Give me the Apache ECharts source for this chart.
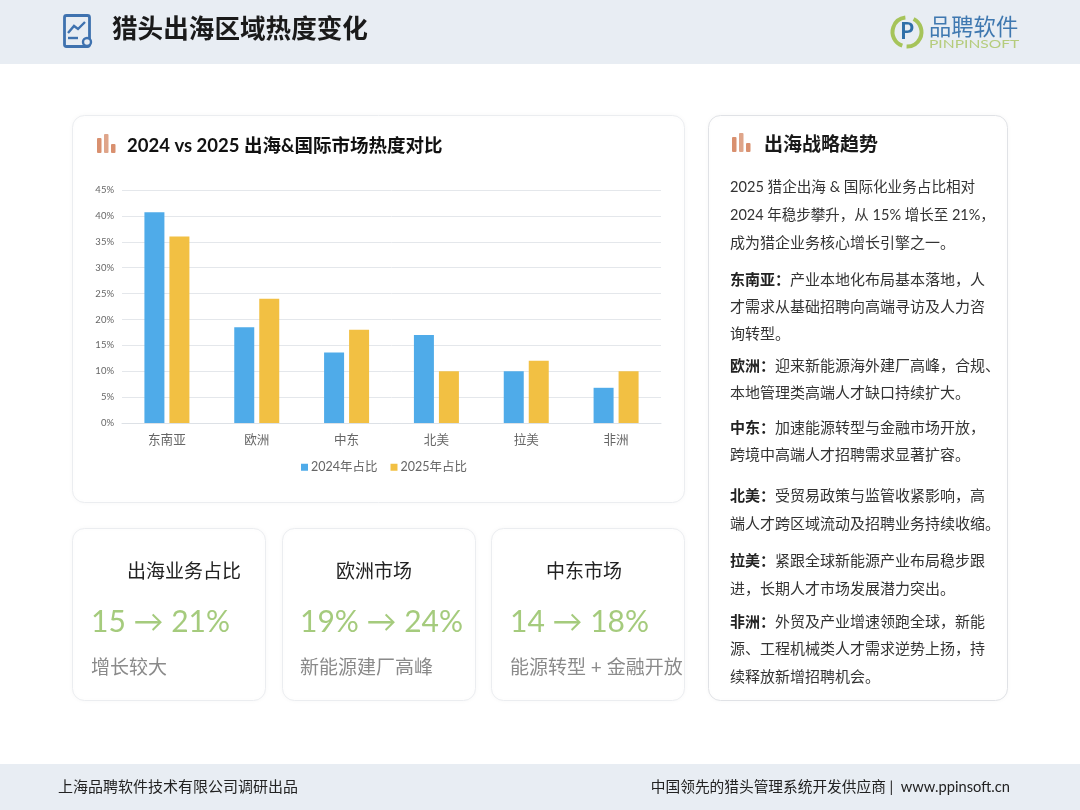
<!DOCTYPE html>
<html><head><meta charset="utf-8">
<style>html,body{margin:0;padding:0;background:#fff}#c{width:1080px;height:810px}</style>
<script src="https://cdn.jsdelivr.net/npm/echarts@6/dist/echarts.min.js"></script>
</head><body><div id="c"></div>
<script>
const categories = ['东南亚','欧洲','中东','北美','拉美','非洲'];
const values2024 = [40.7,18.5,13.6,17,10,6.8];
const values2025 = [36,24,18,10,12,10];
const seriesNames = ['2024年占比','2025年占比'];
const pageTitle = '猎头出海区域热度变化';
const chartTitle = '2024 vs 2025 出海&国际市场热度对比';
const sideTitle = '出海战略趋势';
const cardTitles = ['出海业务占比','欧洲市场','中东市场'];
const cardValues = ['15 → 21%','19% → 24%','14 → 18%'];
const cardNotes = ['增长较大','新能源建厂高峰','能源转型 + 金融开放'];
const sideLines = [
 ['','2025 猎企出海 & 国际化业务占比相对',187.5,14.6],
 ['','2024 年稳步攀升，从 15% 增长至 21%，',215.5,14.5],
 ['','成为猎企业务核心增长引擎之一。',243,15],
 ['东南亚：','产业本地化布局基本落地，人',280,15],
 ['','才需求从基础招聘向高端寻访及人力咨',307,15],
 ['','询转型。',334,15],
 ['欧洲：','迎来新能源海外建厂高峰，合规、',366,15],
 ['','本地管理类高端人才缺口持续扩大。',393,15],
 ['中东：','加速能源转型与金融市场开放，',428,15],
 ['','跨境中高端人才招聘需求显著扩容。',455,15],
 ['北美：','受贸易政策与监管收紧影响，高',496,15],
 ['','端人才跨区域流动及招聘业务持续收缩。',524,15],
 ['拉美：','紧跟全球新能源产业布局稳步跟',561,15],
 ['','进，长期人才市场发展潜力突出。',589,15],
 ['非洲：','外贸及产业增速领跑全球，新能',622,15],
 ['','源、工程机械类人才需求逆势上扬，持',649,15],
 ['','续释放新增招聘机会。',677,15]
];
const footerLeft = '上海品聘软件技术有限公司调研出品';
const footerRight = '中国领先的猎头管理系统开发供应商 |  www.ppinsoft.cn';

const FF = 'Lato, "Noto Sans CJK SC", sans-serif';
const g = [];
const rect = (x,y,w,h,fill,r,stroke,z) => g.push({type:'rect',silent:true,z:z||0,shape:{x,y,width:w,height:h,r:r||0},
  style:{fill,stroke:stroke||null,lineWidth:stroke?1:0}});
const card = (x,y,w,h,border) => g.push({type:'rect',silent:true,z:0,shape:{x,y,width:w,height:h,r:12},
  style:{fill:'#fff',stroke:border||'#EBEDF0',lineWidth:1,shadowColor:'rgba(0,0,0,0.04)',shadowBlur:5}});
const text = (x,y,t,size,color,weight,align,sx) => g.push({type:'text',silent:true,z:5,x,y,scaleX:sx||1,
  style:{text:t,font:(weight||'normal')+' '+size+'px '+FF,fill:color,textAlign:align||'left',textVerticalAlign:'middle'}});
const bars = (x,y) => {
  rect(x,y-9,4.5,15,'#D9906F',1,null,5); rect(x+7,y-13,4.5,19,'#DFA58A',1,null,5); rect(x+14,y-3,4.5,9,'#D9906F',1,null,5);
};
rect(0,0,1080,64,'#E8EDF3');
rect(0,764,1080,46,'#E8EDF3');
card(72.5,115.5,612,387);
card(708.5,115.5,299,585,'#E0E2E6');
[72.5,282.5,491.5].forEach(x=>card(x,528.5,193,172));

g.push({type:'rect',silent:true,z:5,shape:{x:64.5,y:15.5,width:25,height:31,r:2},style:{fill:'none',stroke:'#3F72AF',lineWidth:2.8}});
g.push({type:'polyline',silent:true,z:5,shape:{points:[[68,33],[74,26],[78,29],[85,22]]},style:{fill:'none',stroke:'#3F72AF',lineWidth:2.4}});
g.push({type:'line',silent:true,z:5,shape:{x1:68,y1:38,x2:78,y2:38},style:{stroke:'#3F72AF',lineWidth:2.4}});
g.push({type:'circle',silent:true,z:6,shape:{cx:87,cy:42,r:4},style:{fill:'#E8EDF3',stroke:'#3F72AF',lineWidth:2.4}});
text(112,30,pageTitle,25.6,'#1a1a1a','bold');

g.push({type:'arc',silent:true,z:5,shape:{cx:907,cy:32,r:14.5,startAngle:-1.1,endAngle:1.6},style:{fill:'none',stroke:'#A6C45A',lineWidth:4}});
g.push({type:'arc',silent:true,z:5,shape:{cx:907,cy:32,r:14.5,startAngle:1.9,endAngle:4.6},style:{fill:'none',stroke:'#A6C45A',lineWidth:4}});
text(907,32,'P',22,'#2F6FA8','bold','center');
text(929,28,'品聘软件',22.3,'#3F78B0');
text(929,44,'PINPINSOFT',12,'#B5CC7C','normal','left',1.3);

bars(97,147);
text(127,146,chartTitle,18.5,'#111','bold');
bars(732,146);
text(764,145,sideTitle,19,'#1a1a1a','bold');

[0,1,2].forEach(i=>{
  const x=[91,300,510][i], tx=[127,336,546][i];
  text(tx,571.5,cardTitles[i],19,'#222');
  text(x,622,cardValues[i],30,'#A5CB7D');
  text(x,667.5,cardNotes[i],19,'#8A8A8A');
});

sideLines.forEach(([b,t,y,s])=>g.push({type:'text',silent:true,z:5,x:730,y,style:{
  text:(b?'{b|'+b+'}':'')+'{n|'+t+'}',textVerticalAlign:'middle',
  rich:{b:{font:'bold '+s+'px '+FF,fill:'#222'},n:{font:'normal '+s+'px '+FF,fill:'#333'}}}}));

text(58,787,footerLeft,15,'#222');
text(1010,787,footerRight,14.7,'#222','normal','right');

const chart = echarts.init(document.getElementById('c'),null,{renderer:'canvas',width:1080,height:810});
chart.setOption({
  animation:false,
  graphic:{elements:g},
  textStyle:{fontFamily:FF},
  grid:{left:122,right:419,top:190,height:233,containLabel:false},
  legend:{data:seriesNames,left:296,top:456,itemWidth:7,itemHeight:7,itemGap:13,icon:'rect',
    textStyle:{fontSize:12.5,color:'#666',fontFamily:FF,padding:[0,0,0,-2]}},
  xAxis:{type:'category',data:categories,axisTick:{show:false},
    axisLine:{lineStyle:{color:'#DDE1E6',width:1}},
    axisLabel:{fontSize:12.6,color:'#666',margin:11,fontFamily:FF}},
  yAxis:{type:'value',min:0,max:45,interval:5,axisLine:{show:false},axisTick:{show:false},
    splitLine:{lineStyle:{color:'#E4E7EB',width:1}},
    axisLabel:{formatter:'{value}%',fontSize:9.5,color:'#666',margin:8,fontFamily:FF}},
  series:[
    {name:seriesNames[0],type:'bar',data:values2024,barWidth:20,barGap:'25%',itemStyle:{color:'#4FABE9'}},
    {name:seriesNames[1],type:'bar',data:values2025,barWidth:20,itemStyle:{color:'#F2C043'}}
  ]
});
</script></body></html>
